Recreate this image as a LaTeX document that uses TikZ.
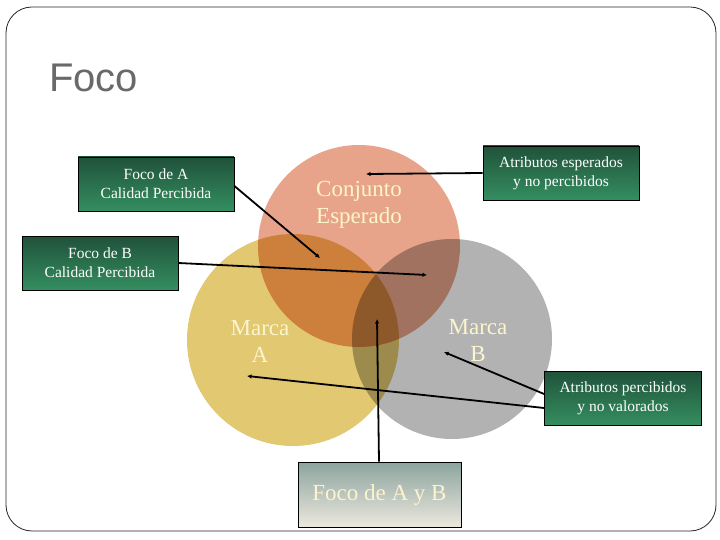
\documentclass[tikz,border=0pt]{standalone}
\usepackage{fontspec}
\setmainfont{Liberation Serif}
\newfontfamily\titlefont{Liberation Sans}
\usetikzlibrary{arrows.meta}
\definecolor{cA}{RGB}{226,200,112}
\definecolor{cB}{RGB}{178,178,178}
\definecolor{cC}{RGB}{232,164,138}
\definecolor{gtop}{RGB}{32,82,58}
\definecolor{gbot}{RGB}{52,142,96}
\definecolor{ftop}{RGB}{140,164,158}
\definecolor{fbot}{RGB}{236,232,222}
\definecolor{cream}{RGB}{252,244,205}
\definecolor{titlegray}{RGB}{105,105,105}
\tikzset{
  greenbox/.style={draw=black, line width=0.8pt, top color=gtop, bottom color=gbot,
    minimum width=156pt, minimum height=54pt, align=center, text=white,
    font=\fontsize{15.5}{19}\selectfont, inner sep=0pt},
  circtext/.style={align=center, text=cream, font=\fontsize{23}{27}\selectfont},
  conn/.style={line width=1.8pt, -{Latex[length=4.5pt,width=4.5pt]}}
}
\begin{document}
\begin{tikzpicture}[x=1pt,y=-1pt]
\useasboundingbox (0,0) rectangle (720,540);
\fill[white] (0,0) rectangle (720,540);
\draw[black!85, line width=0.8pt, rounded corners=26pt] (6,7) rectangle (716,531);
\node[anchor=base west, text=titlegray, font=\titlefont\fontsize{40}{44}\selectfont, inner sep=0pt] (title) at (49,92) {Foco};

\begin{scope}[transparency group]
\begin{scope}[blend mode=multiply]
\fill[cA] (293,340) circle (106);
\fill[cB] (452,339) circle (100);
\fill[cC] (359,246) circle (101);
\end{scope}
\end{scope}

\node[circtext] (conj) at (359,205) {Conjunto\\Esperado};
\node[circtext] (ma) at (260,341) {Marca\\A};
\node[circtext] (mb) at (478,341) {Marca\\B};

\node[greenbox] (fa) at (156,184) {Foco de A\\Calidad Percibida};
\node[greenbox] (ae) at (561,173) {Atributos esperados\\y no percibidos};
\node[greenbox] (fb) at (100,263) {Foco de B\\Calidad Percibida};
\node[greenbox, minimum width=157pt] (ap) at (623,398) {Atributos percibidos\\y no valorados};
\node[draw=black, line width=0.8pt, top color=ftop, bottom color=fbot, minimum width=163pt,
  minimum height=65pt, inner sep=0pt, text=cream, font=\fontsize{23}{27}\selectfont] (fab) at (379.5,494.5) {Foco de A y B};

\coordinate (p1) at (320,258);
\coordinate (p2) at (366,174);
\coordinate (p3) at (427,275);
\coordinate (p4) at (377,319);
\coordinate (p5) at (444,352);
\coordinate (p6) at (247,376);

\draw[conn] (fa.east |- 0,186) -- (p1);
\draw[conn] (ae.west) -- (p2);
\draw[conn] (fb.east) -- (p3);
\draw[conn] (fab.north -| 379,0) -- (p4);
\draw[conn] (ap.west |- 0,394) -- (p5);
\draw[conn] (ap.west |- 0,408) -- (p6);
\end{tikzpicture}
\end{document}
